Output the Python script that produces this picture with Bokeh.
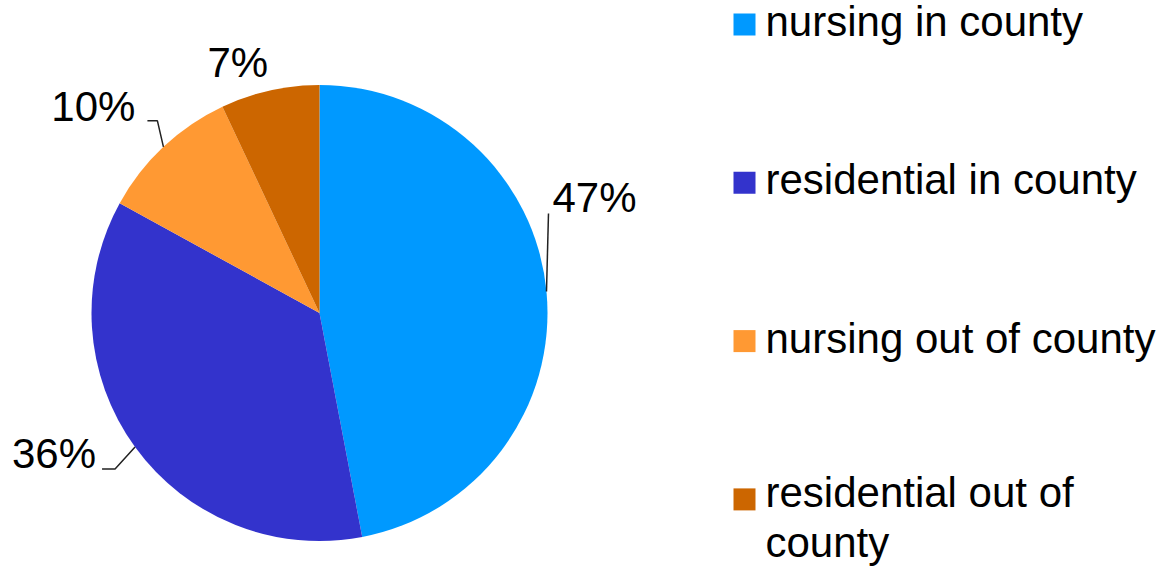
import math
from bokeh.plotting import figure
from bokeh.models import Range1d
from bokeh.core.properties import value
from bokeh.embed import file_html
from bokeh.resources import INLINE

# ---- data ----
categories = ["nursing in county", "residential in county",
              "nursing out of county", "residential out of\ncounty"]
shares = [47, 36, 10, 7]
pct_labels = ["47%", "36%", "10%", "7%"]
colors = ["#0099FF", "#3333CC", "#FF9933", "#CC6600"]

FONT = "Liberation Sans"
W, H = 1162, 570
TOTAL_H = 571
BASE_FIX = 16  # baseline correction for svg text placement

p = figure(width=W, height=H, x_range=Range1d(0, W), y_range=Range1d(TOTAL_H - H, TOTAL_H),
           output_backend="svg", toolbar_location=None, min_border=0,
           x_axis_location=None, y_axis_location=None)
p.grid.visible = False
p.outline_line_color = None
p.background_fill_color = "white"
p.border_fill_color = "white"

# ---- pie ----
cx, cy, R = 319, TOTAL_H - 312.5, 228
total = sum(shares)
starts, ends, mids = [], [], []
cum = 0.0
for s in shares:
    a0 = math.pi / 2 - 2 * math.pi * cum / total
    cum += s
    a1 = math.pi / 2 - 2 * math.pi * cum / total
    starts.append(a0)
    ends.append(a1)
    mids.append((a0 + a1) / 2)

p.wedge(x=[cx] * len(shares), y=[cy] * len(shares), radius=R,
        start_angle=starts, end_angle=ends, direction="clock",
        fill_color=colors, line_color=None)

# ---- data labels with leader lines (layout offsets) ----
# (elbow dx, elbow dy, tail dx, text dx, text dy, align)
label_layout = [
    (2, 78, 0, 4, 0, "left"),
    (-20, -22, -13, -6, 0, "right"),
    (-6, 26, -10, -12, -2, "right"),
    (None, None, None, -32, 12, "center"),
]
for m, lab, lay in zip(mids, pct_labels, label_layout):
    ex, ey = cx + R * math.cos(m), cy + R * math.sin(m)
    edx, edy, tdx, txdx, txdy, align = lay
    if edx is not None:
        bx, by = ex + edx, ey + edy
        p.line([ex, bx, bx + tdx], [ey, by, by], line_color="#222222", line_width=1.5)
        tx, ty = bx + tdx + txdx, by + txdy
    else:
        tx, ty = ex + txdx, ey + txdy
    p.text(x=[tx], y=[ty + BASE_FIX], text=[lab], text_font=value(FONT), text_font_size="42px",
           text_align=align, text_baseline="alphabetic", text_color="black")

# ---- legend (manual) ----
leg_x = 744
leg_top = TOTAL_H - 24
leg_step = 158.3
for i, (cat, col) in enumerate(zip(categories, colors)):
    yc = leg_top - i * leg_step
    p.rect(x=[leg_x], y=[yc], width=22, height=22, fill_color=col, line_color=None)
    lines = cat.split("\n")
    base = yc - (13 if len(lines) == 1 else 9)
    for j, ln in enumerate(lines):
        p.text(x=[leg_x + 21], y=[base - j * 50 + BASE_FIX], text=[ln], text_font=value(FONT),
               text_font_size="42px", text_align="left", text_baseline="alphabetic",
               text_color="black")

open("out.html", "w").write(file_html(p, INLINE))
